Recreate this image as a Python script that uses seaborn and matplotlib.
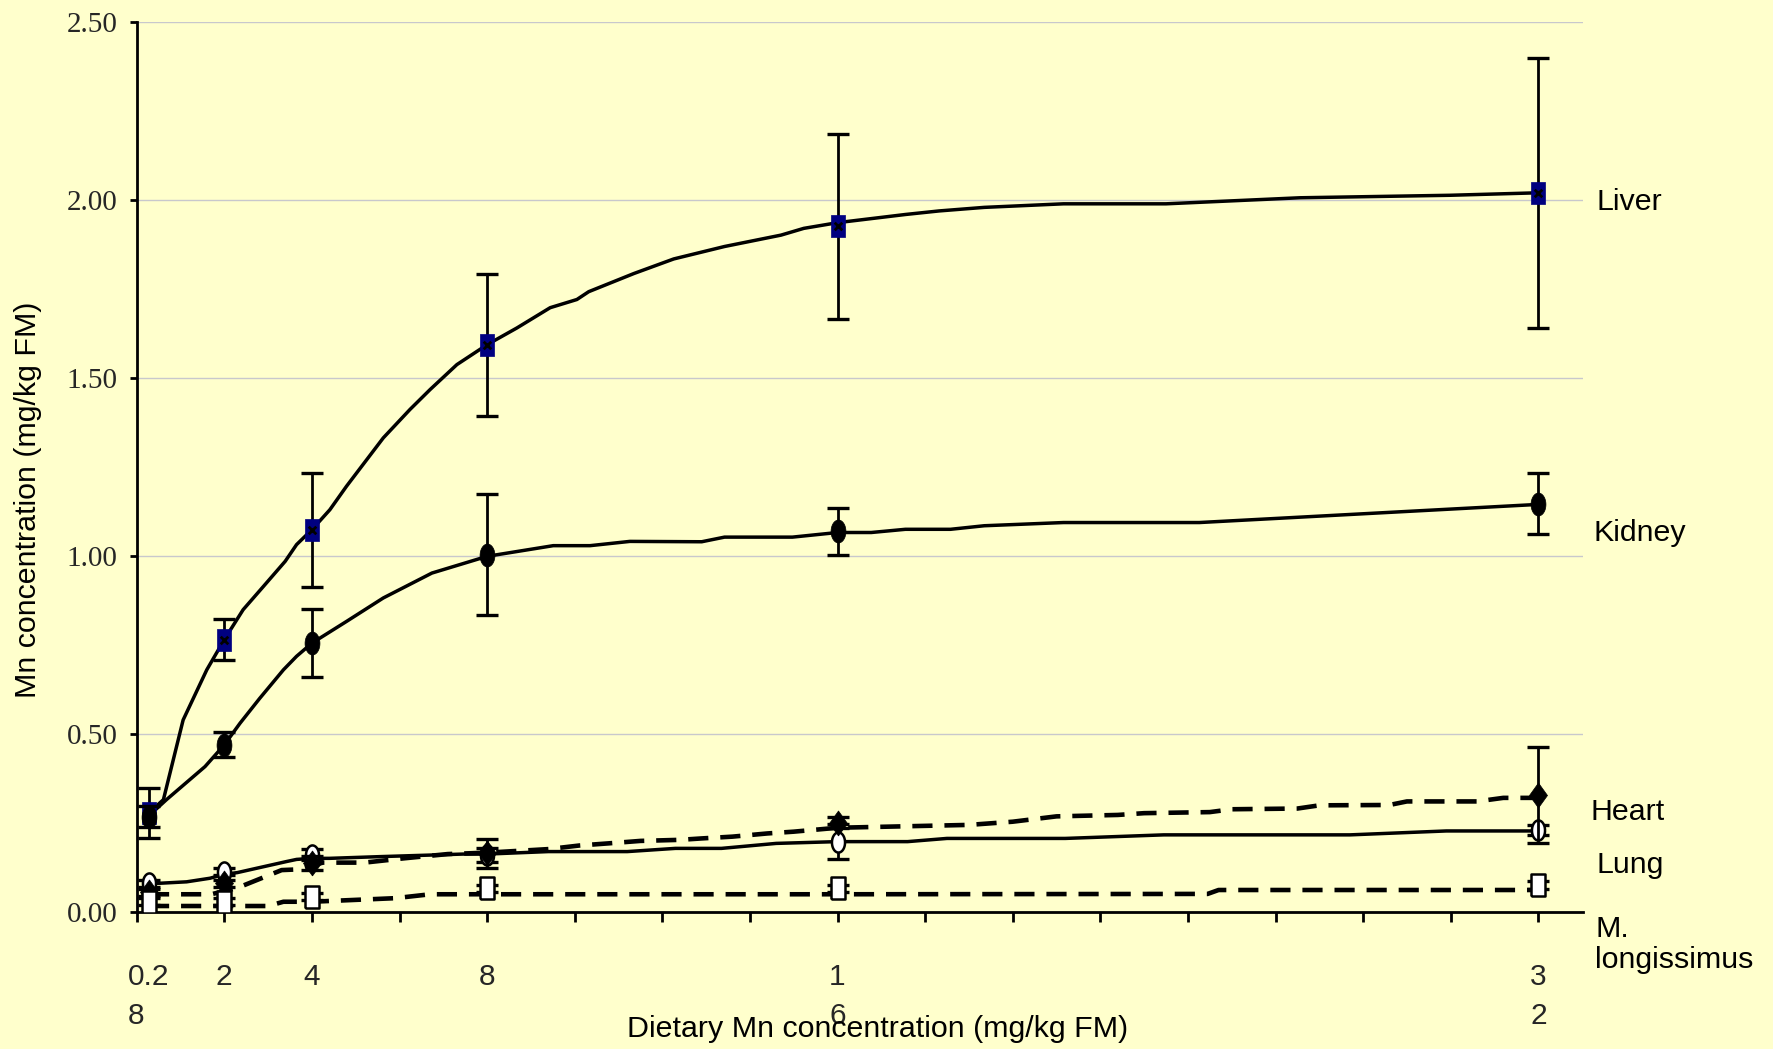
import numpy as np
import pandas as pd
import matplotlib
matplotlib.use("Agg")
import matplotlib.pyplot as plt
from matplotlib.markers import MarkerStyle
from matplotlib import font_manager
import seaborn as sns

# ---------------- data ----------------
dietary = [0.28, 2, 4, 8, 16, 32]
tick_labels = ["0.2\n8", "2", "4", "8", "1\n6", "3\n2"]

liver = [0.278, 0.765, 1.074, 1.594, 1.927, 2.021]
liver_err = [0.07, 0.058, 0.16, 0.20, 0.26, 0.38]
kidney = [0.267, 0.469, 0.755, 1.004, 1.070, 1.147]
kidney_err = [0.03, 0.035, 0.096, 0.17, 0.066, 0.085]
heart = [0.055, 0.080, 0.137, 0.164, 0.250, 0.328]
heart_err = [0.01, 0.01, 0.02, 0.04, 0.015, 0.135]
lung = [0.080, 0.113, 0.160, 0.160, 0.197, 0.230]
lung_err = [0.01, 0.01, 0.015, 0.02, 0.05, 0.015]
mlong = [0.028, 0.028, 0.042, 0.066, 0.066, 0.075]
mlong_err = [0.01, 0.01, 0.01, 0.01, 0.01, 0.01]

# fitted curves as drawn in the reference
liver_fit_x = [0.28, 0.61, 1.06, 1.6, 2.0, 2.43, 2.89, 3.39, 3.65, 4.0, 4.41, 4.79, 5.63, 6.24,
               6.7, 7.31, 8.0, 8.68, 9.44, 10.05, 10.32, 11.35, 12.26, 13.42, 14.71, 15.23,
               16.0, 17.55, 18.32, 19.35, 21.16, 23.5, 26.56, 29.98, 32]
liver_fit_y = [0.278, 0.315, 0.539, 0.68, 0.765, 0.849, 0.914, 0.985, 1.032, 1.074, 1.13, 1.196,
               1.332, 1.412, 1.468, 1.538, 1.594, 1.641, 1.698, 1.721, 1.743, 1.794, 1.835, 1.87,
               1.902, 1.921, 1.937, 1.96, 1.97, 1.98, 1.99, 1.99, 2.007, 2.014, 2.021]
kidney_fit_x = [0.28, 0.68, 1.56, 2.0, 2.36, 2.81, 3.35, 3.65, 4.0, 4.79, 5.63, 6.74, 8.0, 9.51,
                10.35, 11.26, 12.9, 13.42, 14.97, 16.0, 16.77, 17.55, 18.58, 19.35, 21.16, 24.26, 32]
kidney_fit_y = [0.27, 0.315, 0.408, 0.469, 0.53, 0.6, 0.68, 0.718, 0.755, 0.816, 0.882, 0.952,
                0.999, 1.029, 1.029, 1.041, 1.04, 1.053, 1.053, 1.066, 1.066, 1.075, 1.075, 1.085,
                1.094, 1.094, 1.145]
heart_fit_x = [0.28, 1.7, 2.28, 3.31, 3.7, 4.25, 5.2, 6.1, 7.1, 8.0, 9.4, 10.1, 10.76, 11.5, 12.4,
               12.9, 13.6, 14.4, 15.0, 16.0, 19.0, 20.0, 21.0, 22.4, 23.0, 24.5, 25.0, 26.5, 27.0,
               28.6, 29.0, 30.6, 31.2, 32]
heart_fit_y = [0.049, 0.049, 0.066, 0.117, 0.119, 0.138, 0.138, 0.15, 0.162, 0.166, 0.176, 0.186,
               0.192, 0.199, 0.202, 0.206, 0.211, 0.22, 0.225, 0.236, 0.244, 0.253, 0.268, 0.272,
               0.277, 0.28, 0.288, 0.29, 0.299, 0.30, 0.31, 0.31, 0.32, 0.32]
lung_fit_x = [0.28, 0.53, 1.14, 1.67, 2.0, 2.3, 3.42, 3.65, 4.0, 4.4, 5.6, 7.45, 8.0, 9.4, 11.2,
              12.3, 13.35, 14.6, 16.0, 17.6, 18.5, 21.2, 23.45, 27.7, 29.9, 32]
lung_fit_y = [0.08, 0.08, 0.084, 0.094, 0.105, 0.11, 0.141, 0.147, 0.15, 0.15, 0.155, 0.162,
              0.162, 0.169, 0.169, 0.178, 0.178, 0.192, 0.197, 0.197, 0.206, 0.206, 0.216, 0.216,
              0.227, 0.227]
mlong_fit_x = [0.28, 2.0, 3.0, 3.35, 4.0, 5.9, 6.7, 16.0, 24.45, 24.7, 32]
mlong_fit_y = [0.016, 0.016, 0.016, 0.028, 0.028, 0.038, 0.049, 0.049, 0.05, 0.061, 0.061]

tissue_names = ["Liver", "Kidney", "Heart", "Lung", "M.\nlongissimus"]
label_pos_x = [33.33, 33.25, 33.2, 33.33, 33.3]
label_pos_y = [1.994, 1.066, 0.28, 0.132, -0.093]

# ---------------- style ----------------
BG = "#FFFFCC"
sns.set_theme(style="white")
names = {f.name for f in font_manager.fontManager.ttflist}
NARROW = "Liberation Sans Narrow" in names
SANS = "Liberation Sans Narrow" if NARROW else "Liberation Sans"
k = 1.0 if NARROW else 0.84
plt.rcParams["font.family"] = [SANS, "DejaVu Sans"]

fig = plt.figure(figsize=(17.73, 10.49), dpi=100, facecolor=BG)
ax = fig.add_axes([136.7 / 1773, 1 - 911.7 / 1049, (1583 - 136.7) / 1773, (911.7 - 22.4) / 1049])
ax.set_facecolor(BG)

# custom markers (reference is horizontally compressed)
t = np.linspace(0, 2 * np.pi, 48)
ellipse = MarkerStyle(list(zip(0.65 * np.cos(t), np.sin(t))))
rect = MarkerStyle([(-0.66, -1), (0.66, -1), (0.66, 1), (-0.66, 1), (-0.66, -1)])
diamond = MarkerStyle([(0, -1), (0.72, 0), (0, 1), (-0.72, 0), (0, -1)])

SOLID_LW = 2.5
DASH_LW = 3.3
dash = (0, (4.4, 2.6))

curves = [
    (liver_fit_x, liver_fit_y, "-", SOLID_LW),
    (kidney_fit_x, kidney_fit_y, "-", SOLID_LW),
    (lung_fit_x, lung_fit_y, "-", SOLID_LW),
    (heart_fit_x, heart_fit_y, dash, DASH_LW),
    (mlong_fit_x, mlong_fit_y, dash, DASH_LW),
]
for cx, cy, ls, lw in curves:
    df = pd.DataFrame({"x": cx, "y": cy})
    sns.lineplot(data=df, x="x", y="y", sort=False, estimator=None, color="black",
                 linewidth=lw, linestyle=ls, ax=ax, zorder=2)

series = [
    (liver, liver_err, rect, "#000080", "#000080", 15.5, 0.5, 4),
    (kidney, kidney_err, ellipse, "black", "black", 16.5, 0.5, 5),
    (lung, lung_err, ellipse, "white", "black", 14.5, 1.8, 6),
    (heart, heart_err, diamond, "black", "black", 18.0, 0.5, 7),
    (mlong, mlong_err, rect, "white", "black", 15.5, 1.8, 8),
]
for vals, errs, mk, fc, ec, ms, mew, z in series:
    ax.errorbar(dietary, vals, yerr=errs, fmt="none", ecolor="black", elinewidth=2.0,
                capsize=7.6, capthick=2.4, zorder=z - 0.5)
    df = pd.DataFrame({"x": dietary, "y": vals})
    sns.scatterplot(data=df, x="x", y="y", marker=mk, s=ms ** 2, color=fc, edgecolor=ec,
                    linewidth=mew, ax=ax, zorder=z)
# black cross inside the liver squares
sns.scatterplot(x=dietary, y=liver, marker="x", s=30, color="black", linewidth=2.0,
                ax=ax, zorder=4.5)

# ---------------- axes ----------------
ax.set_xlim(0, 33.02)
ax.set_ylim(0, 2.5)
for s in ["top", "right"]:
    ax.spines[s].set_visible(False)
for s in ["left", "bottom"]:
    ax.spines[s].set_color("black")
    ax.spines[s].set_linewidth(2.0)
ax.xaxis.remove_overlapping_locs = False
ax.set_xticks(np.arange(0, 33, 2), labels=[""] * 17)
ax.set_xticks(dietary, labels=tick_labels, minor=True)
ax.tick_params(axis="x", which="major", direction="out", length=7, width=2, color="black",
               bottom=True)
ax.tick_params(axis="x", which="minor", length=0, pad=37, labelsize=21.5)
for lbl in ax.get_xticklabels(minor=True):
    lbl.set_multialignment("left")
    lbl.set_linespacing(1.5)
    lbl.set_family([SANS, "DejaVu Sans"])

yt = [0, 0.5, 1.0, 1.5, 2.0, 2.5]
ax.set_yticks(yt, labels=[f"{v:.2f}" for v in yt])
ax.tick_params(axis="y", direction="out", length=5, width=2, color="black", left=True,
               pad=9, labelsize=21)
for lbl in ax.get_yticklabels():
    lbl.set_family(["Liberation Serif", "DejaVu Serif"])

ax.yaxis.grid(True, color="#c8c8cc", linewidth=1.0)
ax.xaxis.grid(False)
ax.set_axisbelow(True)
ax.set_xlabel("")
ax.set_ylabel("")

fig.text(878 / 1773, 1 - 1029 / 1049, "Dietary Mn concentration (mg/kg FM)",
         ha="center", va="center", fontsize=26 * k, color="black")
fig.text(28 / 1773, 1 - 500 / 1049, "Mn concentration (mg/kg FM)", rotation=90,
         ha="center", va="center", fontsize=26 * k, color="black")

for name, lx, ly in zip(tissue_names, label_pos_x, label_pos_y):
    ax.text(lx, ly, name, ha="left", va="center", fontsize=26 * k, color="black",
            clip_on=False, linespacing=1.15)

fig.savefig("out.png", dpi=100, facecolor=BG)
